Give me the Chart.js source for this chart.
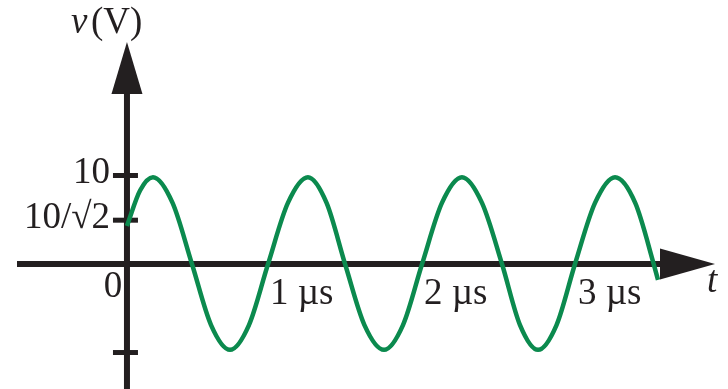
<!DOCTYPE html>
<html>
<head>
<meta charset="utf-8">
<script src="https://cdn.jsdelivr.net/npm/chart.js@4/dist/chart.umd.min.js"></script>
<style>
  html, body { margin: 0; padding: 0; background: #fff; }
  #wrap { width: 728px; height: 389px; }
</style>
</head>
<body>
<div id="wrap"><canvas id="grafico" width="728" height="389"></canvas></div>
<script>
// tempo em µs e tensão em V
const tempos = [0, 0.085, 0.169, 0.296, 0.422, 0.546, 0.669, 0.792, 0.916,
  1.045, 1.175, 1.296, 1.416, 1.542, 1.669, 1.792, 1.916,
  2.045, 2.175, 2.305, 2.435, 2.552, 2.669, 2.789, 2.909,
  3.039, 3.169, 3.300, 3.420, 3.448];
const tensoes = [4.3, 8.3, 9.8, 6.9, 0, -6.9, -9.7, -6.9, 0,
  6.9, 9.8, 6.9, 0, -6.9, -9.7, -6.9, 0,
  6.9, 9.8, 6.9, 0, -6.9, -9.7, -6.9, 0,
  6.9, 9.8, 6.9, 0, -1.8];

// marcas do eixo vertical (posição como aparece no desenho)
const ticksY = [10, 4.95, -10];
const rotulosY = ['10', '10/√2', ''];
// marcas do eixo do tempo
const ticksX = [1, 2, 3];
const rotulosX = ['1 µs', '2 µs', '3 µs'];

const corTexto = '#231f20';
const fonte = '"Liberation Serif", "DejaVu Serif", serif';

const eixos = {
  id: 'eixos',
  beforeDatasetsDraw(chart) {
    const ctx = chart.ctx;
    const x = chart.scales.x, y = chart.scales.y;
    const x0 = x.getPixelForValue(0);
    const y0 = y.getPixelForValue(0);
    const area = chart.chartArea;
    ctx.save();
    ctx.fillStyle = corTexto;
    ctx.strokeStyle = corTexto;

    // eixo horizontal + seta
    ctx.lineWidth = 6;
    ctx.beginPath();
    ctx.moveTo(area.left, y0);
    ctx.lineTo(area.right - 50, y0);
    ctx.stroke();
    ctx.beginPath();
    ctx.moveTo(area.right, y0);
    ctx.lineTo(area.right - 55, y0 - 15.5);
    ctx.lineTo(area.right - 55, y0 + 15.5);
    ctx.closePath();
    ctx.fill();

    // eixo vertical + seta
    ctx.beginPath();
    ctx.moveTo(x0, area.bottom);
    ctx.lineTo(x0, area.top + 45);
    ctx.stroke();
    ctx.beginPath();
    ctx.moveTo(x0, area.top);
    ctx.lineTo(x0 - 15.5, area.top + 52);
    ctx.lineTo(x0 + 15.5, area.top + 52);
    ctx.closePath();
    ctx.fill();

    // tracinhos do eixo y
    ctx.lineWidth = 5;
    ticksY.forEach(v => {
      const py = y.getPixelForValue(v);
      ctx.beginPath();
      ctx.moveTo(x0 - 14, py);
      ctx.lineTo(x0 + 11, py);
      ctx.stroke();
    });

    // rótulos
    ctx.font = '37px ' + fonte;
    ctx.textAlign = 'right';
    ctx.textBaseline = 'middle';
    ticksY.forEach((v, i) => {
      ctx.fillText(rotulosY[i], x0 - 17, y.getPixelForValue(v) - 2);
    });

    ctx.textAlign = 'left';
    ctx.textBaseline = 'alphabetic';
    ticksX.forEach((v, i) => {
      ctx.fillText(rotulosX[i], x.getPixelForValue(v) - 11, y0 + 40);
    });

    ctx.textAlign = 'center';
    ctx.fillText('0', x0 - 14, y0 + 33);

    ctx.textAlign = 'left';
    ctx.font = 'italic 37px ' + fonte;
    ctx.fillText('t', area.right - 8, y0 + 28);
    ctx.fillText('v', 71, 33);
    ctx.font = '37px ' + fonte;
    ctx.fillText('(V)', 91, 33);
    ctx.restore();
  }
};

new Chart(document.getElementById('grafico').getContext('2d'), {
  type: 'line',
  data: {
    datasets: [{
      data: tempos.map((t, i) => ({ x: t, y: tensoes[i] })),
      borderColor: '#0b8a4e',
      borderWidth: 4.5,
      pointRadius: 0,
      cubicInterpolationMode: 'monotone',
      fill: false
    }]
  },
  options: {
    responsive: false,
    animation: false,
    layout: { padding: { left: 17, right: 13, top: 42, bottom: 0 } },
    plugins: { legend: { display: false }, tooltip: { enabled: false } },
    scales: {
      x: { type: 'linear', min: -0.714, max: 3.818, display: false },
      y: { min: -14.12, max: 25.08, display: false }
    }
  },
  plugins: [eixos]
});
</script>
</body>
</html>
